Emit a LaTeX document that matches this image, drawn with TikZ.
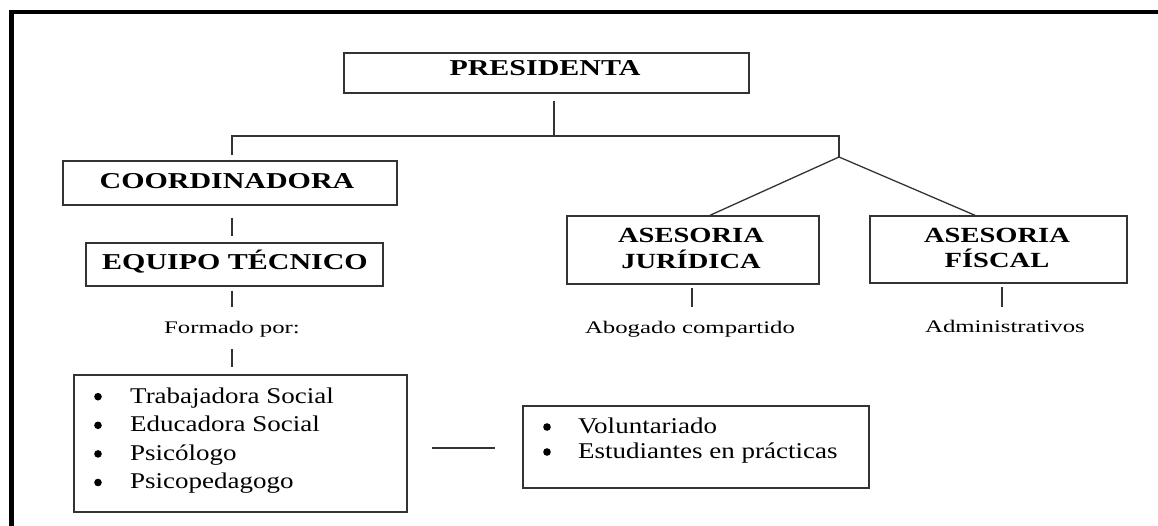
\documentclass[tikz,border=0pt]{standalone}
\usepackage{fontspec}
\setmainfont{Liberation Serif}
\newfontfamily\listfont{Liberation Serif}[FakeStretch=1.2]
\newfontfamily\smallfont{Liberation Serif}[FakeStretch=1.4]
\newfontfamily\headfont{Liberation Serif}[FakeStretch=1.32]
\begin{document}
\begin{tikzpicture}[x=1pt,y=-1pt,
  box/.style={draw=black!80, line width=1.4pt, rectangle, inner sep=0pt},
  conn/.style={draw=black!80, line width=1.3pt},
  head/.style={inner sep=0pt, anchor=base, font=\headfont\bfseries\fontsize{22.7}{27}\selectfont},
  headb/.style={inner sep=0pt, anchor=base, font=\headfont\bfseries\fontsize{21.6}{26}\selectfont},
  small/.style={inner sep=0pt, anchor=base, font=\smallfont\fontsize{17.7}{21}\selectfont},
  lst/.style={inner sep=0pt, anchor=base west, align=left},
  bul/.style={fill=black},
]
\useasboundingbox (0,0) rectangle (1158,525);
% outer frame (open at right and bottom)
\draw[line width=4.5pt, line join=miter] (11.25,530) -- (11.25,12) -- (1165,12);

% boxes
\node[box, minimum width=405pt, minimum height=40pt] (pres) at (546.5,73) {};
\node[box, minimum width=334pt, minimum height=44pt] (coord) at (230,183) {};
\node[box, minimum width=297pt, minimum height=43pt] (equipo) at (234.5,264.5) {};
\node[box, minimum width=252pt, minimum height=68pt] (jur) at (693,250) {};
\node[box, minimum width=257pt, minimum height=67pt] (fis) at (998.5,249.5) {};
\node[box, minimum width=333pt, minimum height=137pt] (list1) at (240.5,443.5) {};
\node[box, minimum width=346pt, minimum height=82pt] (list2) at (696,447) {};

% texts
\node[head] (tpres) at (545,75.7) {PRESIDENTA};
\node[head] (tcoord) at (227,188) {COORDINADORA};
\node[head] (tequipo) at (235,269) {EQUIPO TÉCNICO};
\node[headb] (tjur1) at (691,242) {ASESORIA};
\node[headb] (tjur2) at (691,268) {JURÍDICA};
\node[headb] (tfis1) at (997,242) {ASESORIA};
\node[headb] (tfis2) at (997,267) {FÍSCAL};
\node[small] (formado) at (232,333) {Formado por:};
\node[small] (abogado) at (690,333) {Abogado compartido};
\node[small] (admin) at (1005,332) {Administrativos};

\node[lst, font=\listfont\fontsize{22.5}{28.6}\selectfont] (items1) at (130,403)
  {\begin{tabular}[t]{@{}l@{}}
   Trabajadora Social\\
   Educadora Social\\
   Psicólogo\\
   Psicopedagogo
   \end{tabular}};
\node[lst, font=\listfont\fontsize{22.5}{25}\selectfont] (items2) at (578,433.5)
  {\begin{tabular}[t]{@{}l@{}}
   Voluntariado\\
   Estudiantes en prácticas
   \end{tabular}};

% bullets
\foreach \yy in {396.7,425.3,453.9,482.5} \fill[bul] (98,\yy) circle[radius=3.8pt];
\foreach \yy in {427,452} \fill[bul] (547,\yy) circle[radius=3.8pt];

% junction coordinates
\coordinate (jtop) at (554,136);
\coordinate (jleft) at (232,136);
\coordinate (jright) at (839,136);
\coordinate (apex) at (839,157);
\coordinate (jjur) at (710,216);
\coordinate (jfis) at (975,216);

% connectors
\draw[conn] (jtop |- pres.south) ++(0,7) -- (jtop);
\draw[conn] (jleft) ++(0,19) -- (jleft) -- (jright) -- (apex);
\draw[conn] (apex) -- (jjur |- jur.north);
\draw[conn] (apex) -- (jfis |- fis.north);
\draw[conn] (jleft |- coord.south) ++(0,12) -- (232,236);
\draw[conn] (jleft |- equipo.south) ++(0,4) -- (232,307);
\draw[conn] (jleft |- list1.north) ++(0,-25) -- (232,367);
\draw[conn] (692,288) -- (692,307);
\draw[conn] (1002,287) -- (1002,307);
\draw[conn] (432,448) -- (495,448);
\end{tikzpicture}
\end{document}
